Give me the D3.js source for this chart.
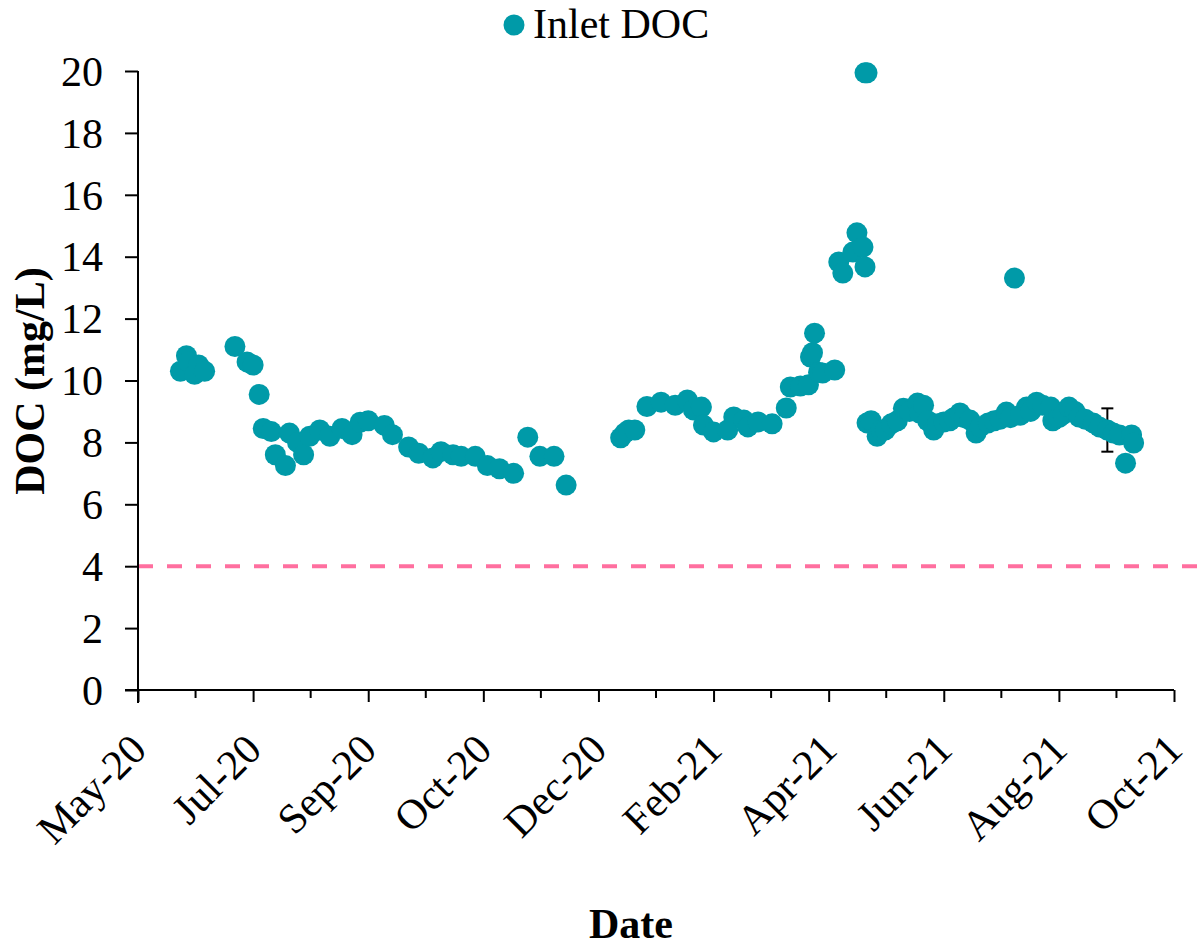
<!DOCTYPE html>
<meta charset="utf-8">
<html>

<head>
    <title>Inlet DOC</title>
    <style>
        body { margin: 0; background: #fff; }
        text { font-family: "Liberation Serif", "Times New Roman", serif; }
    </style>
</head>

<body>

    <script src="https://cdnjs.cloudflare.com/ajax/libs/d3/7.8.5/d3.min.js"></script>
    <script>
        // sample dates (inlet grab samples)
        var sampleDates = [
            "2020-05-31", "2020-06-03", "2020-06-04", "2020-06-07", "2020-06-09", "2020-06-12",
            "2020-06-27", "2020-07-03", "2020-07-06", "2020-07-09", "2020-07-11", "2020-07-15",
            "2020-07-17", "2020-07-22", "2020-07-24", "2020-07-28", "2020-07-31", "2020-08-03",
            "2020-08-08", "2020-08-13", "2020-08-19", "2020-08-24", "2020-08-28", "2020-09-01",
            "2020-09-09", "2020-09-13", "2020-09-21", "2020-09-26", "2020-10-03", "2020-10-07",
            "2020-10-13", "2020-10-17", "2020-10-24", "2020-10-30", "2020-11-05", "2020-11-12",
            "2020-11-19", "2020-11-25", "2020-12-02", "2020-12-08",
            "2021-01-04", "2021-01-06", "2021-01-08", "2021-01-11", "2021-01-17", "2021-01-24",
            "2021-01-31", "2021-02-06", "2021-02-09", "2021-02-13", "2021-02-14", "2021-02-19",
            "2021-02-26", "2021-03-01", "2021-03-06", "2021-03-08", "2021-03-13", "2021-03-20",
            "2021-03-27", "2021-03-29", "2021-04-03", "2021-04-07", "2021-04-08", "2021-04-09",
            "2021-04-10", "2021-04-12", "2021-04-14", "2021-04-20", "2021-04-22", "2021-04-24",
            "2021-04-29", "2021-05-01", "2021-05-04", "2021-05-05", "2021-05-05", "2021-05-06",
            "2021-05-06", "2021-05-08", "2021-05-11", "2021-05-13", "2021-05-15", "2021-05-18",
            "2021-05-21", "2021-05-24", "2021-05-27", "2021-05-31", "2021-06-01", "2021-06-03",
            "2021-06-05", "2021-06-08", "2021-06-10", "2021-06-13", "2021-06-16", "2021-06-18",
            "2021-06-21", "2021-06-23", "2021-06-26", "2021-06-29", "2021-07-01", "2021-07-05",
            "2021-07-08", "2021-07-11", "2021-07-14", "2021-07-16", "2021-07-18", "2021-07-21",
            "2021-07-24", "2021-07-26", "2021-07-29", "2021-08-01", "2021-08-05", "2021-08-06",
            "2021-08-09", "2021-08-11", "2021-08-14", "2021-08-17", "2021-08-19", "2021-08-22",
            "2021-08-26", "2021-08-29", "2021-09-02", "2021-09-05", "2021-09-08", "2021-09-11",
            "2021-09-14", "2021-09-15"
        ];

        // DOC, mg/L
        var docValues = [
            10.3, 10.8, 10.6, 10.2, 10.5, 10.3,
            11.1, 10.6, 10.5, 9.55, 8.45, 8.35,
            7.6, 7.25, 8.3, 8.0, 7.6, 8.2,
            8.4, 8.2, 8.45, 8.25, 8.65, 8.7,
            8.55, 8.25, 7.85, 7.65, 7.5, 7.7,
            7.6, 7.55, 7.55, 7.25, 7.15, 7.0,
            8.17, 7.55, 7.55, 6.62,
            8.15, 8.3, 8.4, 8.4, 9.16, 9.3,
            9.2, 9.37, 9.05, 9.14, 8.56, 8.34,
            8.4, 8.82, 8.72, 8.5, 8.66, 8.6,
            9.11, 9.79, 9.82, 9.86, 10.76, 10.9,
            11.53, 10.27, 10.24, 10.34, 13.83, 13.47,
            14.15, 14.77, 14.31, 13.67, 19.94, 19.94,
            8.63, 8.7, 8.2, 8.4, 8.4, 8.6,
            8.7, 9.1, 9.0, 9.27, 8.95, 9.2,
            8.7, 8.4, 8.6, 8.66, 8.7, 8.8,
            8.95, 8.8, 8.72, 8.3, 8.5, 8.63,
            8.7, 8.75, 8.98, 8.8, 13.31, 8.88,
            9.14, 9.0, 9.3, 9.2, 9.14, 8.7,
            8.8, 8.9, 9.14, 9.0, 8.82, 8.75,
            8.63, 8.5, 8.4, 8.3, 8.24, 7.33,
            8.24, 7.98
        ];

        // error bar (one sample with replicates)
        var errDates = ["2021-09-02"];
        var errMean = [8.4];
        var errSd = [0.7];

        var guideline = 4; // mg/L
        var yTicks = [0, 2, 4, 6, 8, 10, 12, 14, 16, 18, 20];
        var xTickLabels = ["May-20", "Jul-20", "Sep-20", "Oct-20", "Dec-20", "Feb-21", "Apr-21", "Jun-21", "Aug-21", "Oct-21"];
        var xStart = "2020-05-10";
        var xStepDays = 57;

        var parse = d3.utcParse("%Y-%m-%d");
        var data = sampleDates.map(function (d, i) { return { date: parse(d), doc: docValues[i] }; });

        var W = 1201, H = 947;
        var plotLeft = 138, plotRight = 1174, plotTop = 71, plotBottom = 690;
        var teal = "#009aa8";

        var t0 = parse(xStart);
        var tickDates = xTickLabels.map(function (l, i) { return d3.utcDay.offset(t0, i * xStepDays); });
        var minorDates = xTickLabels.slice(1).map(function (l, i) {
            return d3.utcHour.offset(t0, Math.round((i + 0.5) * xStepDays * 24));
        });

        var x = d3.scaleUtc().domain([t0, tickDates[tickDates.length - 1]]).range([plotLeft, plotRight]);
        var y = d3.scaleLinear().domain([0, 20]).range([plotBottom, plotTop]);

        var svg = d3.select("body").append("svg")
            .attr("width", W)
            .attr("height", H);

        // guideline
        svg.append("line")
            .attr("x1", plotLeft).attr("x2", 1197)
            .attr("y1", y(guideline)).attr("y2", y(guideline))
            .attr("stroke", "#ff6f9f")
            .attr("stroke-width", 4)
            .attr("stroke-dasharray", "15 14");

        // y axis
        var yAxis = svg.append("g")
            .attr("transform", "translate(" + plotLeft + ",0)")
            .call(d3.axisLeft(y).tickValues(yTicks).tickSize(13).tickPadding(22).tickSizeOuter(0));
        yAxis.select(".domain").attr("stroke", "#000").attr("stroke-width", 2).attr("d", "M0," + (plotBottom + 13) + "V" + plotTop);
        yAxis.selectAll(".tick line").attr("stroke", "#000").attr("stroke-width", 2);
        yAxis.selectAll(".tick text")
            .attr("font-size", 42).attr("fill", "#000")
            .attr("font-family", "'Liberation Serif', 'Times New Roman', serif")
            .attr("dy", "0.34em");

        // x axis
        var xAxis = svg.append("g")
            .attr("transform", "translate(0," + plotBottom + ")")
            .call(d3.axisBottom(x).tickValues(tickDates).tickSize(12).tickFormat(function (d, i) { return xTickLabels[i]; }).tickSizeOuter(0));
        xAxis.select(".domain").attr("stroke", "#000").attr("stroke-width", 2).attr("d", "M" + (plotLeft - 13) + ",0H" + plotRight);
        xAxis.selectAll(".tick line").attr("stroke", "#000").attr("stroke-width", 2);
        xAxis.selectAll(".tick text")
            .attr("font-size", 42).attr("fill", "#000")
            .attr("font-family", "'Liberation Serif', 'Times New Roman', serif")
            .attr("text-anchor", "end")
            .attr("y", 0).attr("dy", 0)
            .attr("transform", "translate(10,62) rotate(-45)");

        svg.append("g").selectAll("line")
            .data(minorDates)
            .enter().append("line")
            .attr("x1", function (d) { return x(d); }).attr("x2", function (d) { return x(d); })
            .attr("y1", plotBottom).attr("y2", plotBottom + 8)
            .attr("stroke", "#000").attr("stroke-width", 2);

        // error bars
        var errG = svg.append("g").attr("stroke", "#000").attr("stroke-width", 2);
        errDates.forEach(function (d, i) {
            var cx = x(parse(d));
            var y1 = y(errMean[i] + errSd[i]), y2 = y(errMean[i] - errSd[i]);
            errG.append("line").attr("x1", cx).attr("x2", cx).attr("y1", y1).attr("y2", y2);
            errG.append("line").attr("x1", cx - 6).attr("x2", cx + 6).attr("y1", y1).attr("y2", y1);
            errG.append("line").attr("x1", cx - 6).attr("x2", cx + 6).attr("y1", y2).attr("y2", y2);
        });

        // points
        svg.append("g").selectAll("circle")
            .data(data)
            .enter().append("circle")
            .attr("cx", function (d) { return x(d.date); })
            .attr("cy", function (d) { return y(d.doc); })
            .attr("r", 10.5)
            .attr("fill", teal);

        // legend
        svg.append("circle").attr("cx", 514).attr("cy", 25).attr("r", 10.5).attr("fill", teal);
        svg.append("text").attr("x", 533).attr("y", 38)
            .attr("font-size", 42).text("Inlet DOC");

        // axis titles
        svg.append("text")
            .attr("x", 631).attr("y", 938)
            .attr("text-anchor", "middle")
            .attr("font-size", 42).attr("font-weight", "bold")
            .text("Date");
        svg.append("text")
            .attr("transform", "translate(44,381) rotate(-90)")
            .attr("text-anchor", "middle")
            .attr("font-size", 42).attr("font-weight", "bold")
            .text("DOC (mg/L)");
    </script>
</body>

</html>
